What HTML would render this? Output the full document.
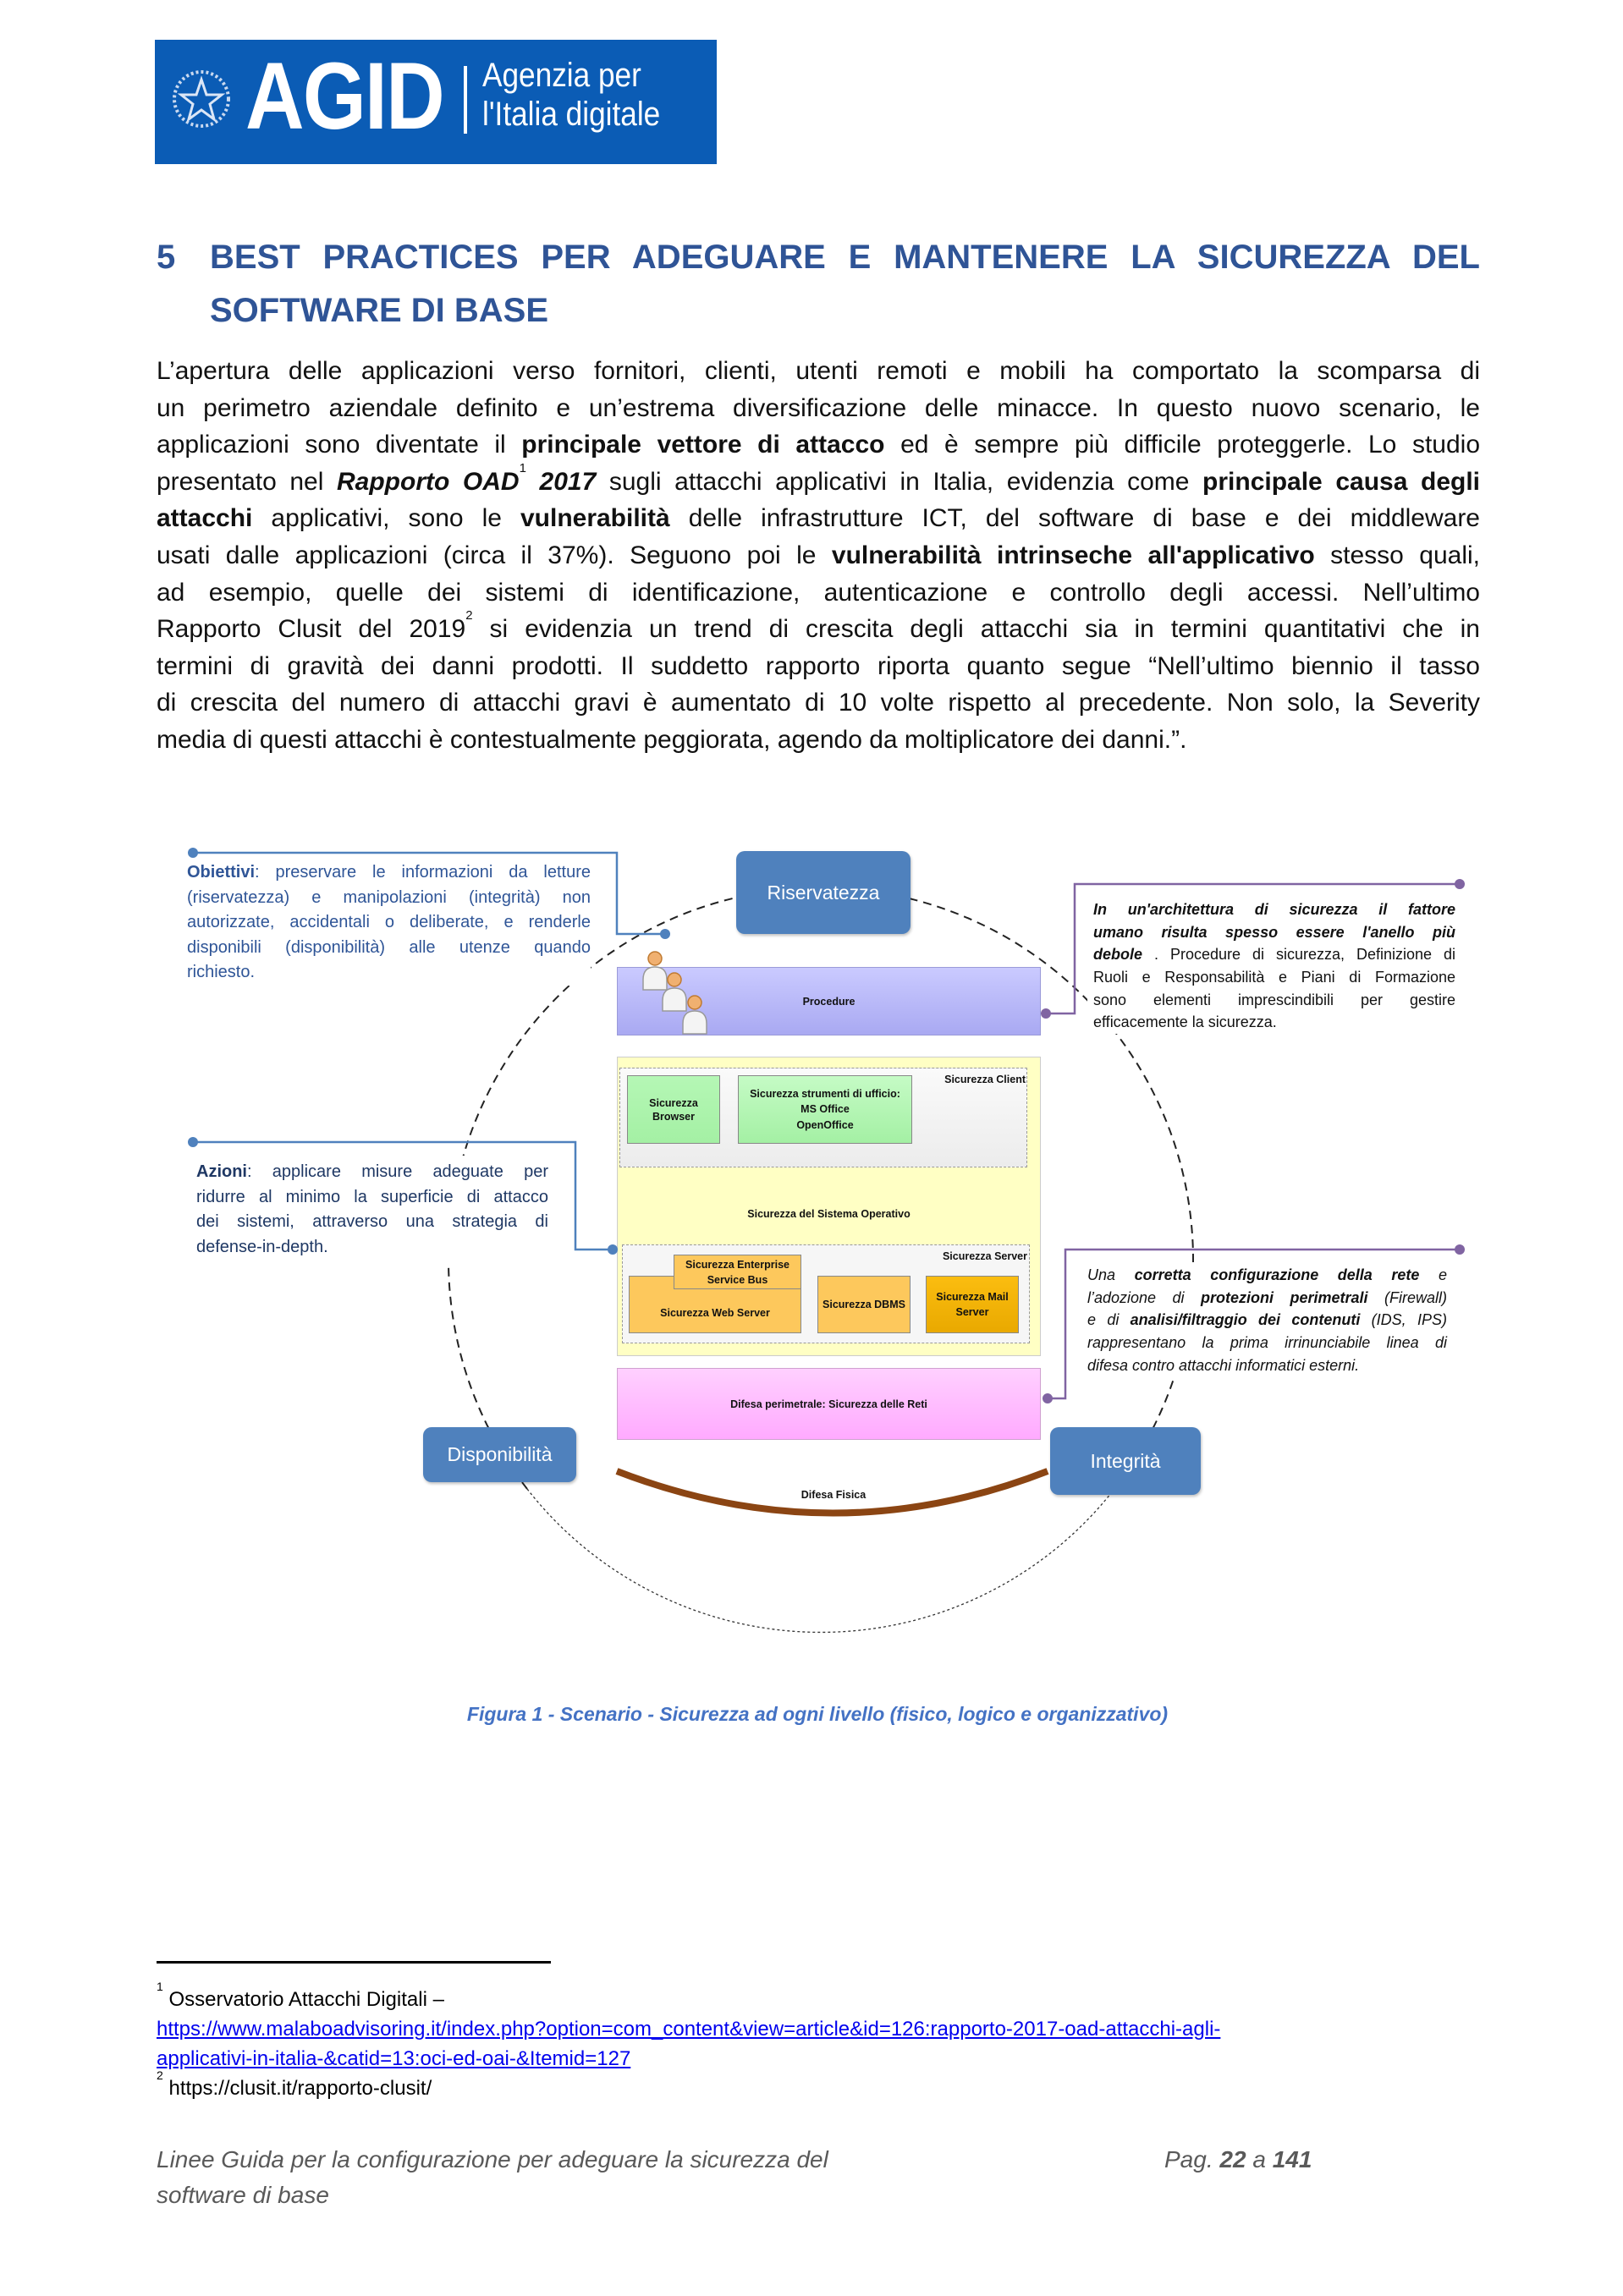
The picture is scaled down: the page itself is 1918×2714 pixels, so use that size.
<!DOCTYPE html>
<html><head><meta charset="utf-8">
<style>
*{margin:0;padding:0;box-sizing:border-box}
body{width:1918px;height:2714px;background:#fff;position:relative;font-family:"Liberation Sans",sans-serif;overflow:hidden}
.a{position:absolute}
sup{line-height:0;vertical-align:top;position:relative;top:6px}
.h{color:#2f5496;font-weight:bold;font-size:40px;white-space:nowrap}
.bl{position:absolute;left:185px;width:1564px;font-size:30px;line-height:43.6px;height:43.6px;white-space:nowrap;text-align:justify;text-align-last:justify;color:#111}
.bl.last{text-align-last:left}
.jt{text-align:justify;text-align-last:justify;white-space:nowrap;height:29.6px;line-height:29.6px}
.jl{text-align:left;white-space:nowrap;height:29.6px;line-height:29.6px}
.rt{white-space:nowrap;text-align:justify;text-align-last:justify;height:26.7px;line-height:26.7px}
.lbl{position:absolute;font-weight:bold;font-size:12.5px;color:#111;text-align:center;display:flex;align-items:center;justify-content:center;line-height:16px}
.box{position:absolute;border:1px solid #888}
.tb{position:absolute;color:#fff;background:#4f81bd;border-radius:10px;display:flex;align-items:center;justify-content:center;font-size:23px;box-shadow:1px 2px 3px rgba(0,0,0,.25)}
</style></head><body>

<!-- logo -->
<div class="a" style="left:183px;top:47px;width:664px;height:147px;background:#0b5cb5"></div>
<svg class="a" style="left:200px;top:72px" width="80" height="100"><circle cx="38" cy="45" r="32" fill="none" stroke="#c9d9f0" stroke-width="4" stroke-dasharray="3 3"/><polygon points="38,22 44,40 62,40 48,51 53,69 38,58 23,69 28,51 14,40 32,40" fill="none" stroke="#dbe6f6" stroke-width="3"/></svg>
<div class="a" style="left:290px;top:52px;font-size:112px;font-weight:bold;color:#fff;letter-spacing:-2px;line-height:124px;transform:scaleX(0.86);transform-origin:left">AGID</div>
<div class="a" style="left:548px;top:78px;width:4px;height:80px;background:#fff"></div>
<div class="a" style="left:570px;top:66px;font-size:40px;color:#fff;line-height:46px;transform:scaleX(0.88);transform-origin:left">Agenzia per<br>l'Italia digitale</div>

<!-- heading -->
<div class="a h" style="left:185px;top:281px;line-height:46px">5</div>
<div class="a h" style="left:248px;top:281px;width:1501px;text-align:justify;text-align-last:justify;line-height:46px">BEST PRACTICES PER ADEGUARE E MANTENERE LA SICUREZZA DEL</div>
<div class="a h" style="left:248px;top:344px;line-height:46px">SOFTWARE DI BASE</div>

<!-- body -->
<div class="bl" style="top:417px">L’apertura delle applicazioni verso fornitori, clienti, utenti remoti e mobili ha comportato la scomparsa di</div>
<div class="bl" style="top:460.6px">un perimetro aziendale definito e un’estrema diversificazione delle minacce. In questo nuovo scenario, le</div>
<div class="bl" style="top:504.2px">applicazioni sono diventate il <b>principale vettore di attacco</b> ed è sempre più difficile proteggerle. Lo studio</div>
<div class="bl" style="top:547.8px">presentato nel <b><i>Rapporto OAD</i></b><sup style="font-size:15px">1</sup> <b><i>2017</i></b> sugli attacchi applicativi in Italia, evidenzia come <b>principale causa degli</b></div>
<div class="bl" style="top:591.4px"><b>attacchi</b> applicativi, sono le <b>vulnerabilità</b> delle infrastrutture ICT, del software di base e dei middleware</div>
<div class="bl" style="top:635px">usati dalle applicazioni (circa il 37%). Seguono poi le <b>vulnerabilità intrinseche all'applicativo</b> stesso quali,</div>
<div class="bl" style="top:678.6px">ad esempio, quelle dei sistemi di identificazione, autenticazione e controllo degli accessi. Nell’ultimo</div>
<div class="bl" style="top:722.2px">Rapporto Clusit del 2019<sup style="font-size:15px">2</sup> si evidenzia un trend di crescita degli attacchi sia in termini quantitativi che in</div>
<div class="bl" style="top:765.8px">termini di gravità dei danni prodotti. Il suddetto rapporto riporta quanto segue “Nell’ultimo biennio il tasso</div>
<div class="bl" style="top:809.4px">di crescita del numero di attacchi gravi è aumentato di 10 volte rispetto al precedente. Non solo, la Severity</div>
<div class="bl last" style="top:853px">media di questi attacchi è contestualmente peggiorata, agendo da moltiplicatore dei danni.”.</div>

<!-- diagram background svg -->
<svg class="a" style="left:0;top:0" width="1918" height="2714">
  <path d="M623,1760 A440,440 0 1 1 1317,1760" fill="none" stroke="#222" stroke-width="2" stroke-dasharray="10 7"/>
  <path d="M623,1760 A440,440 0 0 0 1317,1760" fill="none" stroke="#333" stroke-width="1.3" stroke-dasharray="3 3"/>
</svg>

<!-- procedure band -->
<div class="box" style="left:729px;top:1143px;width:501px;height:81px;background:linear-gradient(#cacaff,#a9a9f2);border-color:#9a9ad8"></div>
<div class="lbl" style="left:729px;top:1143px;width:501px;height:81px">Procedure</div>
<!-- yellow -->
<div class="box" style="left:729px;top:1249px;width:501px;height:354px;background:#ffffc4;border-color:#ccc"></div>
<div class="box" style="left:732px;top:1262px;width:482px;height:118px;background:linear-gradient(#fafafa,#ececec);border:1.5px dashed #999"></div>
<div class="lbl" style="left:1100px;top:1266px;width:112px;height:20px;justify-content:flex-end">Sicurezza Client</div>
<div class="box" style="left:741px;top:1271px;width:110px;height:81px;background:linear-gradient(#b5f7b5,#a4f0a4)"></div>
<div class="lbl" style="left:741px;top:1271px;width:110px;height:81px">Sicurezza<br>Browser</div>
<div class="box" style="left:872px;top:1271px;width:206px;height:81px;background:linear-gradient(#c5fbc5,#a4f0a4)"></div>
<div class="lbl" style="left:872px;top:1271px;width:206px;height:81px;line-height:18.5px">Sicurezza strumenti di ufficio:<br>MS Office<br>OpenOffice</div>
<div class="lbl" style="left:729px;top:1420px;width:501px;height:30px">Sicurezza del Sistema Operativo</div>
<div class="box" style="left:735px;top:1471px;width:482px;height:117px;background:#f6f6f6;border:1.5px dashed #999"></div>
<div class="lbl" style="left:1100px;top:1475px;width:114px;height:20px;justify-content:flex-end">Sicurezza Server</div>
<div class="box" style="left:743px;top:1508px;width:204px;height:68px;background:#fdc85c"></div>
<div class="lbl" style="left:743px;top:1530px;width:204px;height:44px">Sicurezza Web Server</div>
<div class="box" style="left:796px;top:1483px;width:151px;height:41px;background:#fdc85c"></div>
<div class="lbl" style="left:796px;top:1483px;width:151px;height:41px;line-height:18px">Sicurezza Enterprise<br>Service Bus</div>
<div class="box" style="left:966px;top:1508px;width:110px;height:68px;background:#fdc85c"></div>
<div class="lbl" style="left:966px;top:1508px;width:110px;height:68px">Sicurezza DBMS</div>
<div class="box" style="left:1094px;top:1508px;width:110px;height:68px;background:linear-gradient(#fbbd10,#e9a900)"></div>
<div class="lbl" style="left:1094px;top:1508px;width:110px;height:68px;line-height:18px">Sicurezza Mail<br>Server</div>
<!-- pink -->
<div class="box" style="left:729px;top:1617px;width:501px;height:85px;background:linear-gradient(#ffd0ff,#ffaaff);border-color:#cfa0cf"></div>
<div class="lbl" style="left:729px;top:1617px;width:501px;height:85px">Difesa perimetrale: Sicurezza delle Reti</div>

<!-- left texts -->
<div class="a" style="left:221px;top:1017px;width:477px;font-size:20px;color:#2f5597;background:#fff">
<div class="jt"><b>Obiettivi</b>: preservare le informazioni da letture</div>
<div class="jt">(riservatezza) e manipolazioni (integrità) non</div>
<div class="jt">autorizzate, accidentali o deliberate, e renderle</div>
<div class="jt">disponibili (disponibilità) alle utenze quando</div>
<div class="jl">richiesto.</div>
</div>
<div class="a" style="left:226px;top:1366px;width:422px;font-size:20px;color:#1f3864;background:#fff;padding:5px 0 6px 6px">
<div class="jt"><b>Azioni</b>: applicare misure adeguate per</div>
<div class="jt">ridurre al minimo la superficie di attacco</div>
<div class="jt">dei sistemi, attraverso una strategia di</div>
<div class="jl">defense-in-depth.</div>
</div>
<!-- right texts -->
<div class="a" style="left:1285px;top:1062px;width:435px;font-size:18px;color:#111;background:#fff;padding-left:7px">
<div class="rt"><b><i>In un'architettura di sicurezza il fattore</i></b></div>
<div class="rt"><b><i>umano risulta spesso essere l'anello più</i></b></div>
<div class="rt"><b><i>debole</i></b> . Procedure di sicurezza, Definizione di</div>
<div class="rt">Ruoli e Responsabilità e Piani di Formazione</div>
<div class="rt">sono elementi imprescindibili per gestire</div>
<div class="rt" style="text-align-last:left">efficacemente la sicurezza.</div>
</div>
<div class="a" style="left:1280px;top:1494px;width:430px;font-size:18px;color:#111;font-style:italic;background:#fff;padding-left:5px">
<div class="rt">Una <b>corretta configurazione della rete</b> e</div>
<div class="rt">l’adozione di <b>protezioni perimetrali</b> (Firewall)</div>
<div class="rt">e di <b>analisi/filtraggio dei contenuti</b> (IDS, IPS)</div>
<div class="rt">rappresentano la prima irrinunciabile linea di</div>
<div class="rt" style="text-align-last:left">difesa contro attacchi informatici esterni.</div>
</div>

<svg class="a" style="left:0;top:0" width="1918" height="2714">
  <path d="M729,1739 Q985,1838 1238,1739" fill="none" stroke="#8b4513" stroke-width="8"/>
  <g fill="#f4f4f4" stroke="#999" stroke-width="1.5">
    <path d="M760,1158 q0,-15 14,-15 q14,0 14,15 v12 h-28z"/><circle cx="774" cy="1133" r="8" fill="#f0b070" stroke="#c07a30"/>
    <path d="M783,1183 q0,-15 14,-15 q14,0 14,15 v12 h-28z"/><circle cx="797" cy="1158" r="8" fill="#f0b070" stroke="#c07a30"/>
    <path d="M807,1210 q0,-15 14,-15 q14,0 14,15 v12 h-28z"/><circle cx="821" cy="1185" r="8" fill="#f0b070" stroke="#c07a30"/>
  </g>
  <g fill="none" stroke="#4f81bd" stroke-width="2.5">
    <polyline points="228,1008 729,1008 729,1104 786,1104"/>
    <polyline points="228,1350 680,1350 680,1477 724,1477"/>
  </g>
  <g fill="#4f81bd"><circle cx="228" cy="1008" r="6"/><circle cx="786" cy="1104" r="6"/><circle cx="228" cy="1350" r="6"/><circle cx="724" cy="1477" r="6"/></g>
  <g fill="none" stroke="#8064a2" stroke-width="2.5">
    <polyline points="1725,1045 1270,1045 1270,1198 1238,1198"/>
    <polyline points="1725,1477 1259,1477 1259,1653 1240,1653"/>
  </g>
  <g fill="#8064a2"><circle cx="1725" cy="1045" r="6"/><circle cx="1236" cy="1198" r="6"/><circle cx="1725" cy="1477" r="6"/><circle cx="1238" cy="1653" r="6"/></g>
</svg>
<div class="lbl" style="left:900px;top:1752px;width:170px;height:30px">Difesa Fisica</div>

<div class="tb" style="left:870px;top:1006px;width:206px;height:98px">Riservatezza</div>
<div class="tb" style="left:500px;top:1687px;width:181px;height:65px">Disponibilità</div>
<div class="tb" style="left:1241px;top:1687px;width:178px;height:80px">Integrità</div>

<!-- caption -->
<div class="a" style="left:0;width:1932px;top:2013px;text-align:center;font-size:23px;font-weight:bold;font-style:italic;color:#4472c4">Figura 1 - Scenario - Sicurezza ad ogni livello (fisico, logico e organizzativo)</div>

<!-- footnotes -->
<div class="a" style="left:185px;top:2318px;width:466px;height:3px;background:#000"></div>
<div class="a" style="left:185px;top:2346px;font-size:24px;line-height:35px;color:#000;white-space:nowrap">
<div><sup style="font-size:14px;top:2px">1</sup> Osservatorio Attacchi Digitali –</div>
<div style="color:#0000ee;text-decoration:underline">https://www.malaboadvisoring.it/index.php?option=com_content&amp;view=article&amp;id=126:rapporto-2017-oad-attacchi-agli-</div>
<div style="color:#0000ee;text-decoration:underline">applicativi-in-italia-&amp;catid=13:oci-ed-oai-&amp;Itemid=127</div>
<div><sup style="font-size:14px;top:2px">2</sup> https://clusit.it/rapporto-clusit/</div>
</div>

<!-- footer -->
<div class="a" style="left:185px;top:2532px;font-size:28px;line-height:42px;font-style:italic;color:#595959;white-space:nowrap">Linee Guida per la configurazione per adeguare la sicurezza del<br>software di base</div>
<div class="a" style="left:1376px;top:2532px;font-size:28px;line-height:42px;font-style:italic;color:#595959;white-space:nowrap">Pag. <b>22</b> a <b>141</b></div>
</body></html>
